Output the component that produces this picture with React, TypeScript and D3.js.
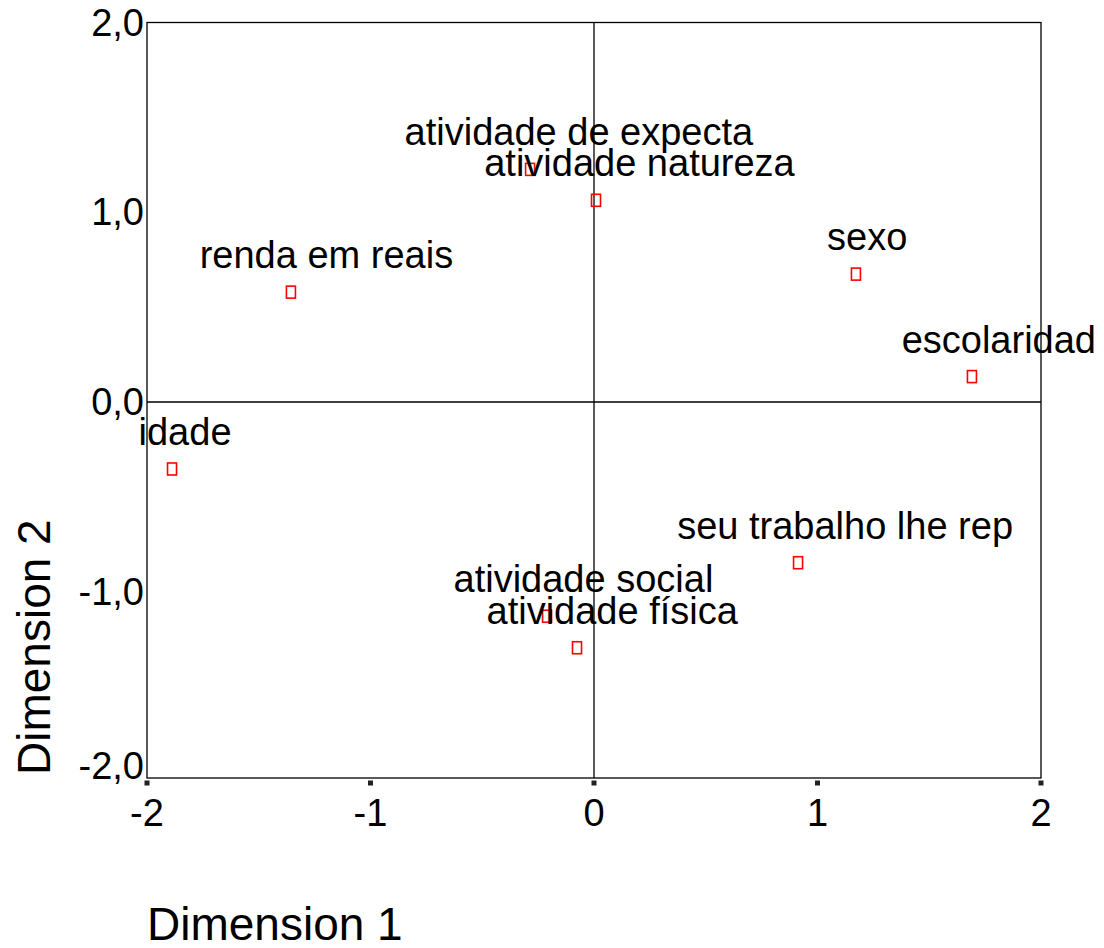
import React, { useEffect, useRef } from "react";
import * as d3 from "d3";

const labels = [
  "atividade de expecta",
  "atividade natureza",
  "renda em reais",
  "sexo",
  "escolaridad",
  "idade",
  "seu trabalho lhe rep",
  "atividade social",
  "atividade física",
];
const dim1 = [-0.286, 0.009, -1.356, 1.172, 1.691, -1.888, 0.913, -0.21, -0.076];
const dim2 = [1.226, 1.063, 0.579, 0.674, 0.134, -0.353, -0.847, -1.129, -1.295];
const xTicks = [-2, -1, 0, 1, 2];
const xTickLabels = ["-2", "-1", "0", "1", "2"];
const yTicks = [2, 1, 0, -1, -2];
const yTickLabels = ["2,0", "1,0", "0,0", "-1,0", "-2,0"];

const W = 1104;
const H = 948;
const FONT = "Arial, 'Liberation Sans', Helvetica, sans-serif";

export default function App() {
  const ref = useRef<SVGSVGElement | null>(null);

  useEffect(() => {
    const svg = d3.select(ref.current);
    svg.selectAll("*").remove();

    const x = d3.scaleLinear().domain([-2, 2]).range([147, 1041]);
    const y = d3.scaleLinear().domain([-2, 2]).range([781.5, 22.5]);
    const frameBottom = y(-2) - 3.5;

    const g = svg.append("g");

    // frame
    g.append("rect")
      .attr("x", x(-2))
      .attr("y", y(2))
      .attr("width", x(2) - x(-2))
      .attr("height", frameBottom - y(2))
      .attr("fill", "none")
      .attr("stroke", "#000")
      .attr("stroke-width", 1.3);

    // zero lines
    g.append("line")
      .attr("x1", x(0)).attr("x2", x(0))
      .attr("y1", y(2)).attr("y2", frameBottom)
      .attr("stroke", "#000").attr("stroke-width", 1.3);
    g.append("line")
      .attr("x1", x(-2)).attr("x2", x(2))
      .attr("y1", y(0)).attr("y2", y(0))
      .attr("stroke", "#000").attr("stroke-width", 1.3);

    // x tick marks and labels
    xTicks.forEach((t, i) => {
      g.append("rect")
        .attr("x", x(t) - 2.5)
        .attr("y", frameBottom + 2.5)
        .attr("width", 5)
        .attr("height", 5)
        .attr("fill", "#222");
      g.append("text")
        .attr("x", x(t))
        .attr("y", 826)
        .attr("text-anchor", "middle")
        .attr("font-family", FONT)
        .attr("font-size", 38)
        .attr("fill", "#000")
        .text(xTickLabels[i]);
    });

    // y tick labels
    yTicks.forEach((t, i) => {
      g.append("text")
        .attr("x", 144)
        .attr("y", Math.min(y(t) + 13, 779))
        .attr("text-anchor", "end")
        .attr("font-family", FONT)
        .attr("font-size", 38)
        .attr("fill", "#000")
        .text(yTickLabels[i]);
    });

    // points
    labels.forEach((lab, i) => {
      const px = x(dim1[i]);
      const py = y(dim2[i]);
      const txt = g.append("text")
        .attr("y", py - 24)
        .attr("font-family", FONT)
        .attr("font-size", 38)
        .attr("fill", "#000")
        .text(lab);
      const node = txt.node() as SVGTextElement;
      const w = node.getComputedTextLength();
      txt.attr("x", Math.min(px - 0.36 * w, W - 8 - w));
      g.append("rect")
        .attr("x", px - 4.5)
        .attr("y", py - 6)
        .attr("width", 9)
        .attr("height", 12)
        .attr("fill", "none")
        .attr("stroke", "#ff0000")
        .attr("stroke-width", 1.6);
    });

    // axis titles
    g.append("text")
      .attr("x", 147)
      .attr("y", 940)
      .attr("font-family", FONT)
      .attr("font-size", 46)
      .attr("fill", "#000")
      .text("Dimension 1");
    g.append("text")
      .attr("transform", "translate(50,775) rotate(-90)")
      .attr("font-family", FONT)
      .attr("font-size", 46)
      .attr("fill", "#000")
      .text("Dimension 2");
  }, []);

  return (
    <svg
      ref={ref}
      width={W}
      height={H}
      style={{ position: "absolute", left: 0, top: 0, background: "#fff" }}
    />
  );
}
